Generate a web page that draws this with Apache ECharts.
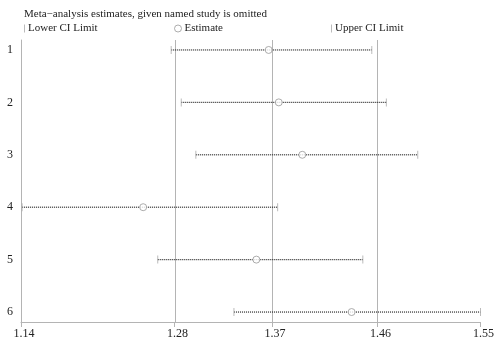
<!DOCTYPE html>
<html><head><meta charset="utf-8">
<script src="https://cdn.jsdelivr.net/npm/echarts@6/dist/echarts.min.js"></script>
<style>html,body{margin:0;padding:0;background:#fff}#c{width:497px;height:347px}</style>
</head><body><div id="c"></div>
<script>
var studies = [1, 2, 3, 4, 5, 6];
var lowerCI = [1.274, 1.283, 1.296, 1.141, 1.262, 1.330];
var estimate = [1.361, 1.370, 1.391, 1.249, 1.350, 1.435];
var upperCI = [1.453, 1.466, 1.494, 1.369, 1.445, 1.550];
var refLines = [1.277, 1.364, 1.458];
var xTicks = [1.14, 1.277, 1.364, 1.458, 1.55];
var xTickLabels = ['1.14', '1.28', '1.37', '1.46', '1.55'];

var font = 'Liberation Serif';
var Y_MIN = 0.81, Y_MAX = 6.19;
var chart = echarts.init(document.getElementById('c'), null, {renderer: 'canvas'});
function pairs(arr) { return arr.map(function (v, i) { return [v, studies[i]]; }); }
var legText = {fontFamily: font, fontSize: 11, color: '#222', padding: [0, 0, 0, -2]};

var option = {
  animation: false,
  backgroundColor: '#fff',
  title: {
    text: 'Meta\u2212analysis estimates, given named study is omitted',
    left: 19, top: 4,
    textStyle: {fontFamily: font, fontSize: 11, fontWeight: 'normal', color: '#222'}
  },
  legend: [
    {data: [{name: 'Lower CI Limit', icon: 'rect'}], left: 19, top: 18, itemWidth: 1, itemHeight: 8, textStyle: legText},
    {data: [{name: 'Estimate', icon: 'circle', itemStyle: {color: '#fff', borderColor: '#999', borderWidth: 1}}],
     left: 169, top: 18, itemWidth: 7, itemHeight: 7, textStyle: legText},
    {data: [{name: 'Upper CI Limit', icon: 'rect'}], left: 326, top: 18, itemWidth: 1, itemHeight: 8, textStyle: legText}
  ],
  grid: {left: 21, right: 15, top: 40, bottom: 25},
  xAxis: {
    type: 'value', min: 1.14, max: 1.55,
    axisLine: {show: true, lineStyle: {color: '#b4b4b4', width: 1}},
    axisTick: {show: true, customValues: xTicks, length: 5, lineStyle: {color: '#b4b4b4'}},
    axisLabel: {customValues: xTicks,
      formatter: function (v) {
        for (var i = 0; i < xTicks.length; i++) { if (Math.abs(xTicks[i] - v) < 1e-6) return xTickLabels[i]; }
        return '';
      },
      fontFamily: font, fontSize: 12, color: '#222', margin: 6, padding: [0, 0, 0, 6]},
    splitLine: {show: false}
  },
  yAxis: {
    type: 'value', inverse: true, min: Y_MIN, max: Y_MAX,
    axisLine: {show: true, lineStyle: {color: '#b4b4b4', width: 1}},
    axisTick: {show: false},
    axisLabel: {customValues: studies, fontFamily: font, fontSize: 12, color: '#222', margin: 8},
    splitLine: {show: false}
  },
  series: [
    {
      type: 'custom', name: 'ref', silent: true,
      encode: {x: 0},
      data: refLines.map(function (v) { return [v]; }),
      renderItem: function (params, api) {
        var a = api.coord([api.value(0), Y_MIN]);
        var b = api.coord([api.value(0), Y_MAX]);
        return {type: 'line', shape: {x1: Math.round(a[0]) + 0.5, y1: a[1], x2: Math.round(b[0]) + 0.5, y2: b[1]},
          style: {stroke: '#b4b4b4', lineWidth: 1}};
      },
      z: 1
    },
    {
      type: 'custom', name: 'ci', silent: true,
      encode: {x: [0, 1], y: 2},
      data: studies.map(function (s, i) { return [lowerCI[i], upperCI[i], s]; }),
      renderItem: function (params, api) {
        var a = api.coord([api.value(0), api.value(2)]);
        var b = api.coord([api.value(1), api.value(2)]);
        return {type: 'line', shape: {x1: a[0], y1: a[1], x2: b[0], y2: b[1]},
          style: {stroke: '#222', lineWidth: 1.2, lineDash: [1, 1]}};
      },
      z: 2
    },
    {type: 'scatter', name: 'Lower CI Limit', symbol: 'rect', symbolSize: [1, 8],
     itemStyle: {color: '#aaa'}, data: pairs(lowerCI), z: 3},
    {type: 'scatter', name: 'Estimate', symbol: 'circle', symbolSize: 7,
     itemStyle: {color: '#fff', borderColor: '#999', borderWidth: 1}, data: pairs(estimate), z: 4},
    {type: 'scatter', name: 'Upper CI Limit', symbol: 'rect', symbolSize: [1, 8],
     itemStyle: {color: '#aaa'}, data: pairs(upperCI), z: 3}
  ]
};
chart.setOption(option);
</script></body></html>
